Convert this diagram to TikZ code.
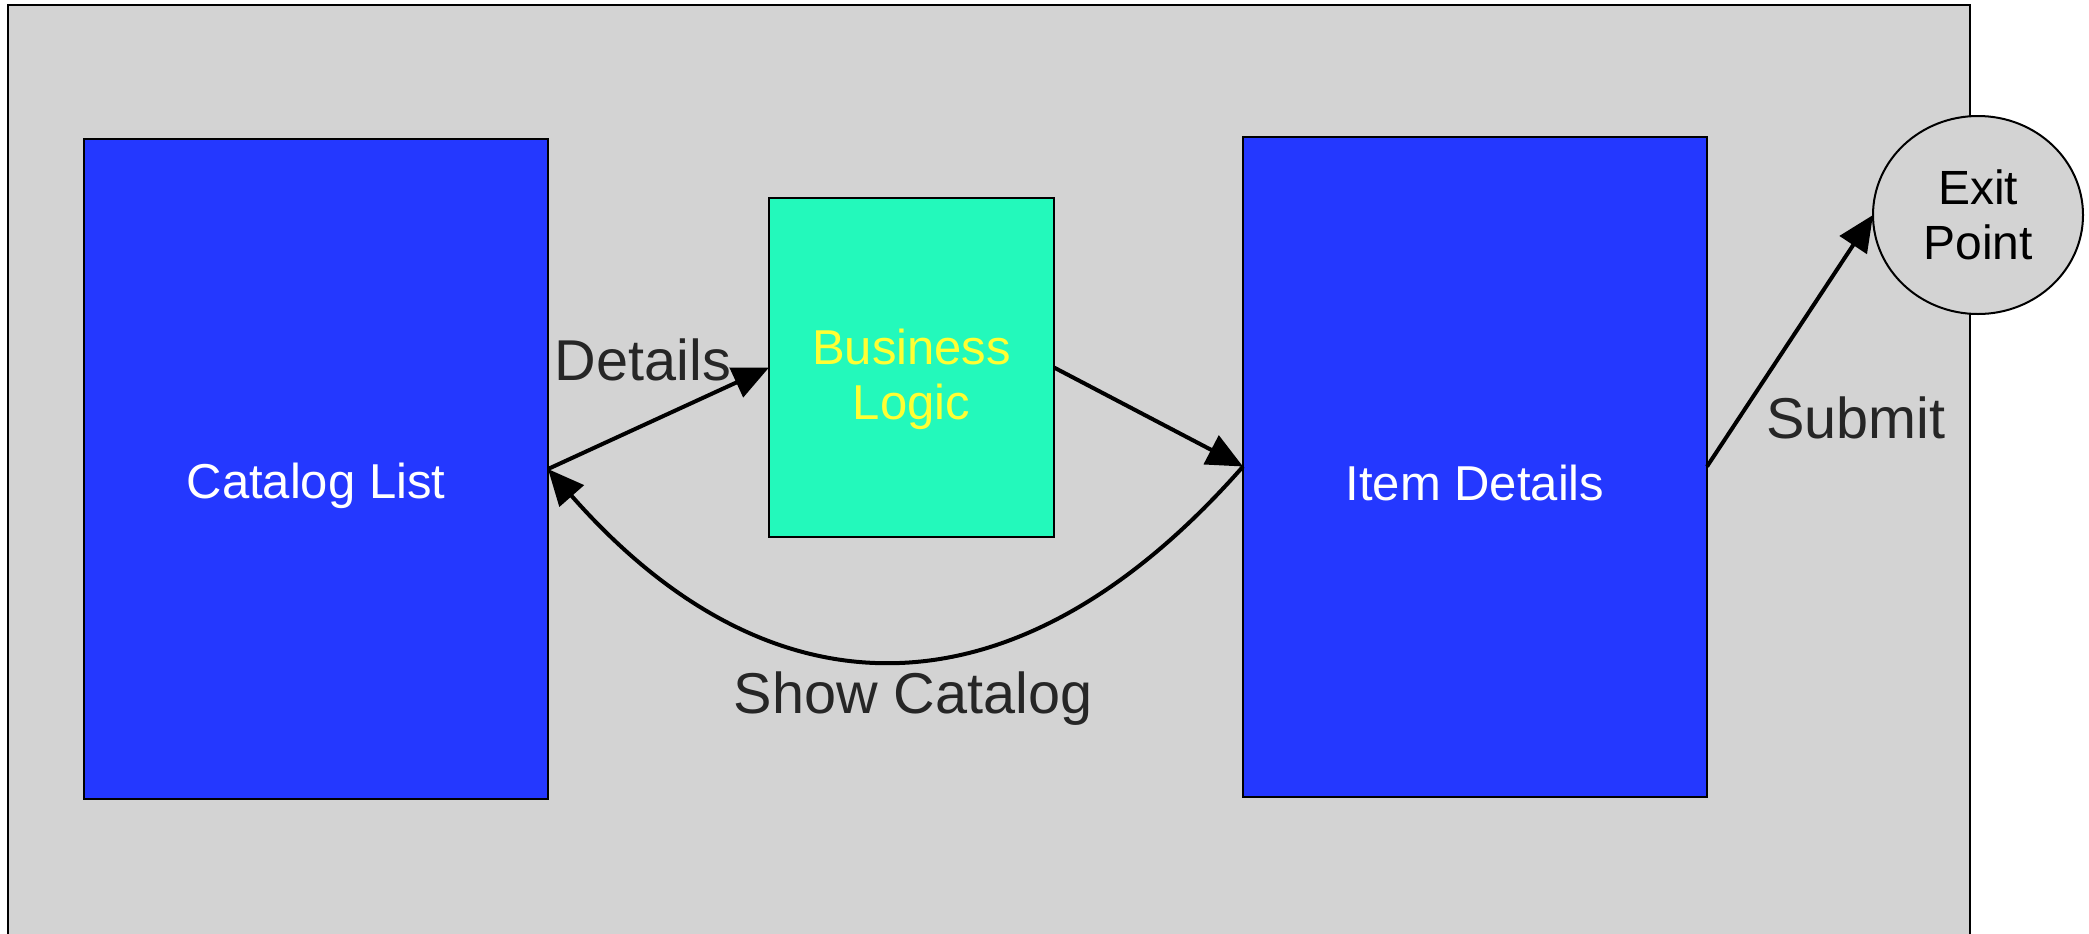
\documentclass[tikz,border=0pt]{standalone}
\usepackage{fontspec}
\setmainfont{Liberation Sans}
\usetikzlibrary{arrows.meta,shapes.geometric}
\definecolor{bggray}{HTML}{D3D3D3}
\definecolor{boxblue}{HTML}{2438FF}
\definecolor{teal}{HTML}{23F9BB}
\definecolor{yel}{HTML}{FFFF33}
\definecolor{labgray}{HTML}{262626}
\tikzset{
  screen/.style={draw=black, line width=1pt, fill=boxblue, rectangle, inner sep=0pt, outer sep=0pt,
    minimum width=232pt, minimum height=330pt},
  scrtext/.style={text=white, font=\fontsize{24.5pt}{27.5pt}\selectfont},
  logicbox/.style={draw=black, line width=1pt, fill=teal, rectangle, inner sep=0pt, outer sep=0pt,
    minimum width=142.5pt, minimum height=169.5pt},
  logictext/.style={text=yel, align=center, font=\fontsize{24.5pt}{27.5pt}\selectfont},
  exitnode/.style={draw=black, line width=1pt, fill=bggray, ellipse, inner sep=0pt, outer sep=0pt,
    minimum width=105pt, minimum height=99pt, align=center, text=black,
    font=\fontsize{24pt}{27.5pt}\selectfont},
  flowlabel/.style={text=labgray, font=\fontsize{28.8pt}{32pt}\selectfont, inner sep=0pt},
  flow/.style={draw=black, line width=2pt, -{Triangle[length=18pt,width=16pt]}},
}
\begin{document}
\begin{tikzpicture}[x=0.5pt, y=-0.5pt]
\useasboundingbox (0,0) rectangle (2089,933);
\draw[line width=1pt, fill=bggray] (8,5) rectangle (1970,960);

\node[screen, label={[scrtext, yshift=-8.5pt]center:Catalog List}] (cat) at (316,469) {};
\node[logicbox, label={[logictext, yshift=-6pt]center:Business\\Logic}] (bl) at (911.5,367.5) {};
\node[screen, label={[scrtext, yshift=-8pt]center:Item Details}] (item) at (1475,466.5) {};
\node[exitnode] (exit) at (1978,215) {Exit\\Point};

\draw[flow] (cat.east) -- (bl.west);
\draw[flow] (bl.east) -- (item.west);
\draw[flow] (item.west) .. controls +(-225,256) and +(225,256) .. (cat.east);
\draw[flow] (item.east) -- (exit.west);

\node[flowlabel] (ldet) at (643,360) {Details};
\node[flowlabel] (lshow) at (913,699) {Show Catalog};
\node[flowlabel] (lsub) at (1856,418) {Submit};
\end{tikzpicture}
\end{document}
